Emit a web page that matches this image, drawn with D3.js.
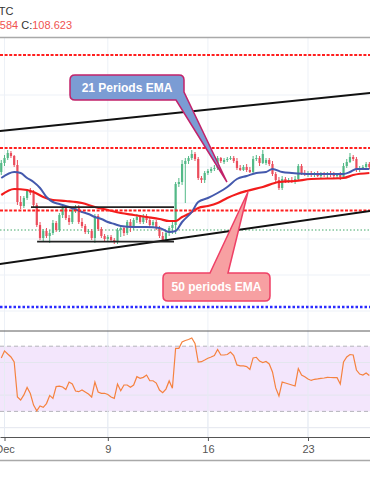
<!DOCTYPE html>
<html>
<head>
<meta charset="utf-8">
<script src="https://cdn.jsdelivr.net/npm/d3@7"></script>
<style>
  html, body { margin: 0; padding: 0; background: #fff; }
  svg { display: block; font-family: "Liberation Sans", Arial, sans-serif; }
</style>
</head>
<body>
<svg id="chart" width="370" height="493"></svg>
<script>
/* USD/JPY 4h — canal de alta, EMA 21/50 e RSI */

// candles 4h, índice 0 = 1º candle de dezembro (31 candles por semana)
const firstBar = -1;
const opens = [
  108.640, 108.685, 108.710, 108.735, 108.720, 108.675, 108.490, 108.470, 108.510, 108.545,
  108.535, 108.475, 108.375, 108.310, 108.345, 108.320, 108.335, 108.385, 108.350, 108.425,
  108.460, 108.410, 108.390, 108.450, 108.465, 108.390, 108.370, 108.340, 108.345, 108.310,
  108.420, 108.355, 108.320, 108.305, 108.315, 108.300, 108.290, 108.350, 108.360, 108.335,
  108.390, 108.360, 108.400, 108.415, 108.390, 108.420, 108.400, 108.375, 108.390, 108.360,
  108.320, 108.300, 108.335, 108.360, 108.375, 108.580, 108.590, 108.680, 108.695, 108.710,
  108.730, 108.705, 108.610, 108.600, 108.635, 108.645, 108.655, 108.660, 108.710, 108.690,
  108.700, 108.705, 108.710, 108.695, 108.660, 108.650, 108.665, 108.650, 108.640, 108.705,
  108.710, 108.685, 108.685, 108.700, 108.680, 108.630, 108.600, 108.560, 108.605, 108.595,
  108.600, 108.590, 108.605, 108.670, 108.635, 108.630, 108.635, 108.625, 108.630, 108.620,
  108.630, 108.625, 108.635, 108.625, 108.620, 108.630, 108.615, 108.670, 108.690, 108.715,
  108.705, 108.650, 108.660, 108.665, 108.680];
const highs = [
  108.700, 108.725, 108.750, 108.745, 108.725, 108.700, 108.520, 108.520, 108.555, 108.560,
  108.550, 108.485, 108.390, 108.355, 108.360, 108.350, 108.400, 108.395, 108.435, 108.470,
  108.470, 108.425, 108.465, 108.475, 108.475, 108.410, 108.380, 108.355, 108.355, 108.430,
  108.430, 108.365, 108.330, 108.325, 108.325, 108.310, 108.360, 108.375, 108.370, 108.400,
  108.405, 108.410, 108.430, 108.425, 108.430, 108.430, 108.410, 108.400, 108.400, 108.370,
  108.340, 108.345, 108.370, 108.390, 108.590, 108.610, 108.700, 108.710, 108.720, 108.750,
  108.740, 108.715, 108.620, 108.645, 108.655, 108.665, 108.675, 108.720, 108.715, 108.710,
  108.715, 108.720, 108.720, 108.710, 108.675, 108.675, 108.680, 108.665, 108.720, 108.725,
  108.720, 108.750, 108.710, 108.710, 108.695, 108.640, 108.615, 108.620, 108.615, 108.610,
  108.615, 108.620, 108.680, 108.680, 108.650, 108.645, 108.645, 108.640, 108.645, 108.640,
  108.640, 108.640, 108.645, 108.640, 108.635, 108.640, 108.685, 108.705, 108.735, 108.725,
  108.715, 108.670, 108.675, 108.690, 108.690];
const lows = [
  108.625, 108.670, 108.700, 108.710, 108.665, 108.475, 108.455, 108.460, 108.500, 108.525,
  108.465, 108.365, 108.300, 108.295, 108.310, 108.285, 108.325, 108.340, 108.340, 108.410,
  108.400, 108.375, 108.380, 108.435, 108.380, 108.360, 108.330, 108.330, 108.300, 108.285,
  108.345, 108.310, 108.295, 108.295, 108.290, 108.280, 108.280, 108.315, 108.320, 108.325,
  108.340, 108.350, 108.385, 108.380, 108.380, 108.385, 108.365, 108.365, 108.350, 108.310,
  108.290, 108.290, 108.320, 108.330, 108.330, 108.565, 108.575, 108.485, 108.680, 108.700,
  108.695, 108.600, 108.585, 108.585, 108.625, 108.635, 108.645, 108.650, 108.685, 108.680,
  108.690, 108.700, 108.685, 108.650, 108.645, 108.645, 108.640, 108.635, 108.635, 108.695,
  108.670, 108.680, 108.675, 108.670, 108.620, 108.590, 108.550, 108.550, 108.585, 108.585,
  108.585, 108.580, 108.595, 108.625, 108.620, 108.615, 108.615, 108.615, 108.615, 108.610,
  108.615, 108.610, 108.615, 108.610, 108.605, 108.600, 108.605, 108.660, 108.685, 108.695,
  108.640, 108.640, 108.650, 108.660, 108.655];
const closes = [
  108.685, 108.710, 108.735, 108.720, 108.675, 108.490, 108.470, 108.510, 108.545, 108.535,
  108.475, 108.375, 108.310, 108.345, 108.320, 108.335, 108.385, 108.350, 108.425, 108.460,
  108.410, 108.390, 108.450, 108.465, 108.390, 108.370, 108.340, 108.345, 108.310, 108.420,
  108.355, 108.320, 108.305, 108.315, 108.300, 108.290, 108.350, 108.360, 108.335, 108.390,
  108.360, 108.400, 108.415, 108.390, 108.420, 108.400, 108.375, 108.390, 108.360, 108.320,
  108.300, 108.335, 108.360, 108.375, 108.580, 108.590, 108.680, 108.695, 108.710, 108.730,
  108.705, 108.610, 108.600, 108.635, 108.645, 108.655, 108.660, 108.710, 108.695, 108.700,
  108.705, 108.710, 108.695, 108.660, 108.650, 108.665, 108.650, 108.640, 108.705, 108.710,
  108.685, 108.730, 108.700, 108.680, 108.630, 108.600, 108.560, 108.605, 108.595, 108.600,
  108.590, 108.605, 108.670, 108.635, 108.630, 108.635, 108.625, 108.630, 108.620, 108.630,
  108.625, 108.635, 108.625, 108.620, 108.630, 108.615, 108.670, 108.690, 108.715, 108.705,
  108.650, 108.660, 108.665, 108.680, 108.665];

// médias móveis (índice do candle, preço)
const ema21Bars = [-1, 3, 5, 7, 9, 11, 13, 15, 17, 20, 24, 26, 28, 30, 32, 34, 36, 40, 44, 48,
  51, 53, 55, 58, 60, 63, 66, 69, 72, 75, 78, 81, 83, 86, 89, 95, 105, 107, 109, 113];
const ema21 = [108.610, 108.640, 108.635, 108.610, 108.590, 108.560, 108.515, 108.490, 108.480, 108.465,
  108.440, 108.430, 108.415, 108.405, 108.390, 108.380, 108.370, 108.365, 108.365, 108.360,
  108.340, 108.345, 108.390, 108.440, 108.490, 108.510, 108.535, 108.565, 108.605, 108.620,
  108.635, 108.640, 108.655, 108.640, 108.635, 108.630, 108.630, 108.640, 108.655, 108.655];
const ema50Bars = [-1, 3, 7, 9, 12, 15, 19, 24, 28, 32, 36, 40, 44, 48, 51, 53, 55, 57, 60, 63,
  66, 69, 72, 75, 80, 85, 90, 95, 105, 108, 113];
const ema50 = [108.525, 108.555, 108.550, 108.540, 108.515, 108.500, 108.495, 108.485, 108.465, 108.450,
  108.435, 108.425, 108.415, 108.405, 108.395, 108.395, 108.415, 108.430, 108.460, 108.470,
  108.485, 108.510, 108.530, 108.545, 108.565, 108.590, 108.595, 108.605, 108.610, 108.625, 108.635];

// RSI(14), um valor por candle
const rsi = [
  62.8, 67.1, 65.2, 63.4, 60.3, 38.8, 37.0, 40.1, 44.7, 41.0,
  33.9, 30.4, 33.3, 32.5, 34.8, 39.8, 38.0, 45.2, 45.5, 45.0,
  43.4, 48.0, 46.8, 42.5, 42.1, 43.1, 41.9, 40.7, 38.8, 48.0,
  41.9, 41.1, 41.1, 40.4, 38.8, 38.0, 46.8, 42.7, 46.2, 46.2,
  44.8, 46.2, 51.3, 50.3, 50.9, 52.3, 48.8, 48.8, 47.4, 43.1,
  41.5, 43.7, 48.7, 44.2, 68.7, 68.7, 72.6, 73.5, 74.1, 75.0,
  71.7, 60.3, 60.5, 61.5, 62.6, 63.4, 64.3, 68.0, 64.6, 64.6,
  64.9, 66.4, 64.3, 58.5, 57.9, 57.9, 57.5, 55.7, 62.8, 63.2,
  60.9, 60.0, 60.6, 59.1, 54.2, 44.4, 39.4, 48.0, 47.4, 46.8,
  46.2, 45.6, 56.3, 52.3, 51.3, 49.9, 49.0, 49.7, 49.9, 50.3,
  50.5, 50.9, 50.8, 50.7, 50.7, 46.8, 60.3, 63.4, 64.9, 64.6,
  55.4, 52.9, 52.3, 53.6, 52.0];

// desenhos do analista
const redLevels = [109.225, 108.760, 108.447];
const blueLevel = 107.965;
const lastLevel = 108.350;
const channelTop = [[-2, 108.844], [115, 109.038]];
const channelBottom = [[-2, 108.179], [115, 108.449]];
const rangeTop = [[8.2, 108.464], [52.5, 108.464]];
const rangeBottom = [[10.1, 108.292], [52.5, 108.292]];
const priceGrid = [109.025, 108.845, 108.665, 108.485, 108.305, 108.125, 107.945];
const rsiGrid = [60, 40, 20];
const rsiBand = [70, 30];
const tickBars = [0, 32, 63, 94];
const tickLabels = ["Dec", "9", "16", "23"];
const tip21 = [68.9, 108.590];
const tip50 = [75.4, 108.540];

const W = 370;
const TOPO = 38, SEP = 331, AXIS = 437;
const UP = "#53b987", DOWN = "#eb4d5c";

const svg = d3.select("#chart");
const x = d3.scaleLinear().domain([0, 94]).range([4.5, 308]);
const y = d3.scaleLinear().domain([108, 109]).range([300, 100]);
const ry = d3.scaleLinear().domain([20, 60]).range([427.7, 362.5]);
const xAxisScale = x.copy().domain([x.invert(0), x.invert(W)]).range([0, W]);
const bars = d3.range(closes.length).map((i) => ({
  i: i + firstBar, o: opens[i], h: highs[i], l: lows[i], c: closes[i], r: rsi[i],
}));

const defs = svg.append("defs");
defs.append("clipPath").attr("id", "cp-top").append("rect")
  .attr("x", 0).attr("y", TOPO).attr("width", W).attr("height", SEP - TOPO);
defs.append("clipPath").attr("id", "cp-rsi").append("rect")
  .attr("x", 0).attr("y", SEP).attr("width", W).attr("height", AXIS - SEP);

/* ---------------- grade ---------------------------------------------------- */
const grid = svg.append("g").attr("stroke", "#edf1f7").attr("stroke-width", 1);
grid.selectAll("line.v").data(tickBars).join("line")
  .attr("x1", (d) => x(d)).attr("x2", (d) => x(d))
  .attr("y1", TOPO).attr("y2", AXIS);
grid.selectAll("line.h").data(priceGrid).join("line")
  .attr("x1", 0).attr("x2", W)
  .attr("y1", (d) => y(d)).attr("y2", (d) => y(d));

/* ---------------- painel de preço ---------------------------------------- */
const painel = svg.append("g").attr("clip-path", "url(#cp-top)");

painel.append("line")
  .attr("x1", 0).attr("x2", W).attr("y1", y(lastLevel)).attr("y2", y(lastLevel))
  .attr("stroke", "#43a86a").attr("stroke-width", 1).attr("stroke-dasharray", "1.5 2");

const candles = painel.append("g").selectAll("g").data(bars).join("g");
candles.append("line")
  .attr("x1", (d) => x(d.i)).attr("x2", (d) => x(d.i))
  .attr("y1", (d) => y(d.h)).attr("y2", (d) => y(d.l))
  .attr("stroke", (d) => (d.c >= d.o ? UP : DOWN)).attr("stroke-width", 1);
candles.append("rect")
  .attr("x", (d) => x(d.i) - 1.1).attr("width", 2.2)
  .attr("y", (d) => y(Math.max(d.o, d.c)))
  .attr("height", (d) => Math.max(1, Math.abs(y(d.o) - y(d.c))))
  .attr("fill", (d) => (d.c >= d.o ? UP : DOWN));

const emaLine = d3.line().curve(d3.curveMonotoneX).x((d) => x(d[0])).y((d) => y(d[1]));
painel.append("path").datum(d3.zip(ema50Bars, ema50))
  .attr("d", emaLine).attr("fill", "none").attr("stroke", "#f21c1c").attr("stroke-width", 2.2);
painel.append("path").datum(d3.zip(ema21Bars, ema21))
  .attr("d", emaLine).attr("fill", "none").attr("stroke", "#4459ad").attr("stroke-width", 2);

painel.selectAll("line.red").data(redLevels).join("line")
  .attr("x1", 0).attr("x2", W).attr("y1", (d) => y(d)).attr("y2", (d) => y(d))
  .attr("stroke", "#ff1f1f").attr("stroke-width", 2).attr("stroke-dasharray", "3 1.6");
painel.append("line")
  .attr("x1", 0).attr("x2", W).attr("y1", y(blueLevel)).attr("y2", y(blueLevel))
  .attr("stroke", "#2b2bff").attr("stroke-width", 2.5).attr("stroke-dasharray", "2.5 2");

const seg = d3.line().x((d) => x(d[0])).y((d) => y(d[1]));
[channelTop, channelBottom].forEach((c) => {
  painel.append("path").datum(c).attr("d", seg)
    .attr("fill", "none").attr("stroke", "#111").attr("stroke-width", 2);
});
[rangeTop, rangeBottom].forEach((c) => {
  painel.append("path").datum(c).attr("d", seg)
    .attr("fill", "none").attr("stroke", "#222").attr("stroke-width", 1.8);
});

/* balões */
function balao21() {
  const [x0, y0, x1, y1, r] = [70, 75, 184, 100, 5];
  const tx = x(tip21[0]), ty = y(tip21[1]);
  return `M${x0 + r},${y0} H${x1 - r} Q${x1},${y0} ${x1},${y0 + r} V92 L${tx},${ty} ` +
    `L176,${y1} H${x0 + r} Q${x0},${y1} ${x0},${y1 - r} V${y0 + r} Q${x0},${y0} ${x0 + r},${y0} Z`;
}
function balao50() {
  const [x0, y0, x1, y1, r] = [163, 273, 270, 301, 5];
  const tx = x(tip50[0]), ty = y(tip50[1]);
  return `M${x0 + r},${y0} H210 L${tx},${ty} L228,${y0} H${x1 - r} Q${x1},${y0} ${x1},${y0 + r} ` +
    `V${y1 - r} Q${x1},${y1} ${x1 - r},${y1} H${x0 + r} Q${x0},${y1} ${x0},${y1 - r} ` +
    `V${y0 + r} Q${x0},${y0} ${x0 + r},${y0} Z`;
}
svg.append("path").attr("d", balao21())
  .attr("fill", "#7b9cd4").attr("stroke", "#c2226a").attr("stroke-width", 1.5);
svg.append("text").attr("x", 127).attr("y", 88).attr("dy", "0.35em")
  .attr("text-anchor", "middle").attr("fill", "#fff")
  .style("font", "bold 12px 'Liberation Sans', Arial, sans-serif")
  .text("21 Periods EMA");
svg.append("path").attr("d", balao50())
  .attr("fill", "#f7a0a2").attr("stroke", "#ef4066").attr("stroke-width", 1.5);
svg.append("text").attr("x", 216.5).attr("y", 287).attr("dy", "0.35em")
  .attr("text-anchor", "middle").attr("fill", "#fff")
  .style("font", "bold 12px 'Liberation Sans', Arial, sans-serif")
  .text("50 periods EMA");

/* ---------------- painel RSI --------------------------------------------- */
const low = svg.append("g").attr("clip-path", "url(#cp-rsi)");
low.append("rect")
  .attr("x", 0).attr("width", W)
  .attr("y", ry(rsiBand[0])).attr("height", ry(rsiBand[1]) - ry(rsiBand[0]))
  .attr("fill", "#f3e6fc");
low.selectAll("line.g").data(rsiGrid).join("line")
  .attr("x1", 0).attr("x2", W).attr("y1", (d) => ry(d)).attr("y2", (d) => ry(d))
  .attr("stroke", "#e3e6ee").attr("stroke-width", 1);
low.selectAll("line.b").data(rsiBand).join("line")
  .attr("x1", 0).attr("x2", W).attr("y1", (d) => ry(d)).attr("y2", (d) => ry(d))
  .attr("stroke", "#b4b4bb").attr("stroke-width", 1).attr("stroke-dasharray", "4 3");
low.selectAll("line.v").data(tickBars).join("line")
  .attr("x1", (d) => x(d)).attr("x2", (d) => x(d)).attr("y1", SEP).attr("y2", AXIS)
  .attr("stroke", "#e6ebf3");
low.append("path").datum(bars)
  .attr("d", d3.line().x((d) => x(d.i)).y((d) => ry(d.r)))
  .attr("fill", "none").attr("stroke", "#f5823f").attr("stroke-width", 1.2);

/* ---------------- bordas e eixo de tempo --------------------------------- */
svg.append("line").attr("x1", 0).attr("x2", W).attr("y1", 37.5).attr("y2", 37.5)
  .attr("stroke", "#a9a9a9").attr("stroke-width", 1.5);
svg.append("line").attr("x1", 0).attr("x2", W).attr("y1", SEP).attr("y2", SEP)
  .attr("stroke", "#5d5d5d").attr("stroke-width", 1);
svg.append("line").attr("x1", 0).attr("x2", W).attr("y1", 460.5).attr("y2", 460.5)
  .attr("stroke", "#a9a9a9").attr("stroke-width", 1.5);

const ax = svg.append("g").attr("transform", `translate(0,${AXIS})`)
  .call(d3.axisBottom(xAxisScale).tickValues(tickBars)
    .tickFormat((d, i) => tickLabels[i]).tickSize(4).tickSizeOuter(0).tickPadding(4));
ax.select(".domain").attr("stroke", "#555");
ax.selectAll(".tick line").attr("stroke", "#555");
ax.selectAll(".tick text").attr("fill", "#555")
  .style("font", "11px 'Liberation Sans', Arial, sans-serif");

/* ---------------- legenda cortada no topo -------------------------------- */
svg.append("text").attr("x", 13.5).attr("y", 15).attr("text-anchor", "end")
  .attr("fill", "#333").style("font", "11px 'Liberation Sans', Arial, sans-serif")
  .text("TC");
const ohlc = svg.append("text").attr("x", 72).attr("y", 29).attr("text-anchor", "end")
  .style("font", "11px 'Liberation Sans', Arial, sans-serif");
ohlc.append("tspan").attr("fill", "#333").text("L:");
ohlc.append("tspan").attr("fill", "#ef5350").text("108.584 ");
ohlc.append("tspan").attr("fill", "#333").text("C:");
ohlc.append("tspan").attr("fill", "#ef5350").text("108.623");
</script>
</body>
</html>
